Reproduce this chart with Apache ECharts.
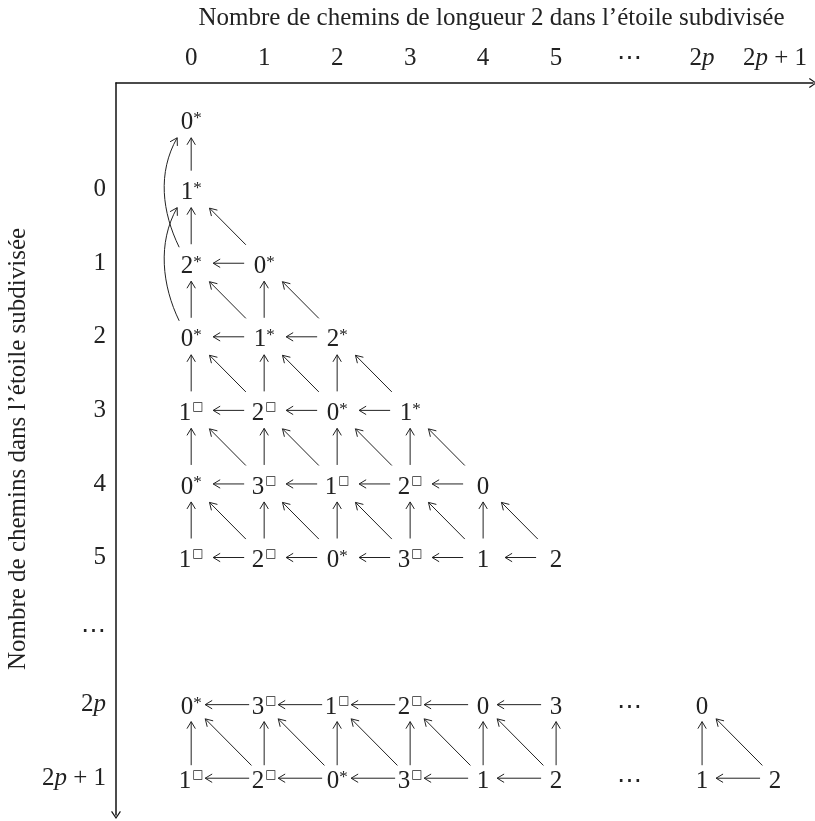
<!DOCTYPE html>
<html>
<head>
<meta charset="utf-8">
<title>Chemins de longueur 2</title>
<script src="https://cdn.jsdelivr.net/npm/echarts@6/dist/echarts.min.js"></script>
<style>
  html, body { margin: 0; padding: 0; background: #fff; }
  #chart { width: 815px; height: 821px; }
</style>
</head>
<body>
<div id="chart"></div>
<script>
// tick labels on both axes
const colLabels = ['0', '1', '2', '3', '4', '5', '⋯', '2p', '2p+1'];
const rowLabels = ['0', '1', '2', '3', '4', '5', '⋯', '2p', '2p+1'];

// rows of the diagram: where each row sits on the vertical axis, and its nodes from left to right
const rowPos = [-0.95, 0, 1, 2, 3, 4, 5, 7, 8];
const rowNodes = [
  ['0*'],
  ['1*'],
  ['2*', '0*'],
  ['0*', '1*', '2*'],
  ['1□', '2□', '0*', '1*'],
  ['0*', '3□', '1□', '2□', '0'],
  ['1□', '2□', '0*', '3□', '1', '2'],
  ['0*', '3□', '1□', '2□', '0', '3', '⋯', '0'],
  ['1□', '2□', '0*', '3□', '1', '2', '⋯', '1', '2']
];
// curved arrows in the first column: [from row, to row] (indexes into rowNodes)
const loops = [[2, 0], [3, 1]];

const ink = '#222';
const serif = '"Liberation Serif", "DejaVu Serif", serif';
const fs = 25;

// nodes
const nodes = [];
rowNodes.forEach((row, i) => {
  row.forEach((s, c) => nodes.push([c, rowPos[i], s]));
});

// straight arrows: up, up-left and left, between neighbouring nodes
const edges = [];
const real = s => s !== undefined && s !== '⋯';
rowNodes.forEach((row, i) => {
  row.forEach((s, c) => {
    if (real(s) && real(row[c + 1])) edges.push([c + 1, rowPos[i], c, rowPos[i]]);
  });
  if (i === 0 || rowPos[i] - rowPos[i - 1] > 1.05) return;
  const up = rowNodes[i - 1];
  row.forEach((s, c) => {
    if (!real(s)) return;
    if (real(up[c])) edges.push([c, rowPos[i], c, rowPos[i - 1]]);
    if (c > 0 && real(up[c - 1])) edges.push([c, rowPos[i], c - 1, rowPos[i - 1]]);
  });
});
const loopData = loops.map(l => [0, rowPos[l[0]], rowPos[l[1]]]);

function arrowHead(tip, ux, uy) {
  const L = 7, W = 4.2;
  const bx = tip[0] - ux * L, by = tip[1] - uy * L;
  return {
    type: 'polyline',
    shape: { points: [[bx - uy * W, by + ux * W], tip, [bx + uy * W, by - ux * W]] },
    style: { stroke: ink, fill: null, lineWidth: 1 }
  };
}

function renderArrow(params, api) {
  const p1 = api.coord([api.value(0), api.value(1)]);
  const p2 = api.coord([api.value(2), api.value(3)]);
  const low = api.value(3) >= 6; // bottom block is typeset tighter
  const dx = p2[0] - p1[0], dy = p2[1] - p1[1];
  const len = Math.hypot(dx, dy);
  const ux = dx / len, uy = dy / len;
  let a, b; // gap at tail, gap at head
  if (Math.abs(dy) < 1) { a = low ? 15 : 20; b = low ? 14 : 22; }
  else if (Math.abs(dx) < 1) { a = low ? 13 : 19; b = low ? 17 : 18; }
  else { a = low ? 18 : 26; b = low ? 20 : 26; }
  const t = [p1[0] + ux * a, p1[1] + uy * a];
  const h = [p2[0] - ux * b, p2[1] - uy * b];
  return {
    type: 'group',
    children: [
      { type: 'line', shape: { x1: t[0], y1: t[1], x2: h[0], y2: h[1] }, style: { stroke: ink, lineWidth: 1 } },
      arrowHead(h, ux, uy)
    ]
  };
}

function renderLoop(params, api) {
  const s = api.coord([api.value(0), api.value(1)]);
  const e = api.coord([api.value(0), api.value(2)]);
  const t = [s[0] - 12, s[1] - 16];
  const h = [e[0] - 14, e[1] + 18];
  const c1 = [t[0] - 17, t[1] - 35];
  const c2 = [h[0] - 20, h[1] + 35];
  const len = Math.hypot(h[0] - c2[0], h[1] - c2[1]);
  return {
    type: 'group',
    children: [
      {
        type: 'bezierCurve',
        shape: { x1: t[0], y1: t[1], cpx1: c1[0], cpy1: c1[1], cpx2: c2[0], cpy2: c2[1], x2: h[0], y2: h[1] },
        style: { stroke: ink, fill: null, lineWidth: 1 }
      },
      arrowHead(h, (h[0] - c2[0]) / len, (h[1] - c2[1]) / len)
    ]
  };
}

// '0*' -> 0 with superscript star, '1□' -> 1 with superscript box
function nodeText(s) {
  const base = '{b|' + s[0] + '}';
  if (s[1] === '*') return base + '{s|*}';
  if (s[1] === '□') return base + '{q|□}';
  return base;
}
const tickText = s => s.replace('p', '{i|p}').replace('+', ' + ');

const tickRich = { i: { fontFamily: serif, fontSize: fs, fontStyle: 'italic', color: ink } };
const axisArrow = 'path://M0,0 L6,9 L4.8,9.8 L0,2.4 L-4.8,9.8 L-6,9 Z';

const chart = echarts.init(document.getElementById('chart'));
chart.setOption({
  backgroundColor: '#fff',
  animation: false,
  grid: { left: 116, right: 2, top: 83, bottom: 6, containLabel: false, outerBoundsMode: 'none' },
  xAxis: {
    type: 'value',
    position: 'top',
    min: -1.03,
    max: 8.52,
    name: 'Nombre de chemins de longueur 2 dans l’étoile subdivisée',
    nameLocation: 'middle',
    nameGap: 52,
    nameTextStyle: { fontFamily: serif, fontSize: fs, color: ink, padding: [0, 0, 0, 54] },
    axisLine: {
      show: true, onZero: false,
      symbol: ['none', axisArrow], symbolSize: [11, 8],
      lineStyle: { color: '#111', width: 1.5 }
    },
    axisTick: { show: false },
    splitLine: { show: false },
    axisLabel: {
      customValues: [0, 1, 2, 3, 4, 5, 6, 7, 8],
      formatter: v => tickText(colLabels[v]),
      margin: 12,
      fontFamily: serif, fontSize: fs, color: ink,
      rich: tickRich
    }
  },
  yAxis: {
    type: 'value',
    inverse: true,
    min: -1.45,
    max: 8.5,
    name: 'Nombre de chemins dans l’étoile subdivisée',
    nameLocation: 'middle',
    nameGap: 84,
    nameTextStyle: { fontFamily: serif, fontSize: fs, color: ink },
    axisLine: {
      show: true, onZero: false,
      symbol: [axisArrow, 'none'], symbolSize: [11, 8],
      lineStyle: { color: '#111', width: 1.5 }
    },
    axisTick: { show: false },
    splitLine: { show: false },
    axisLabel: {
      customValues: [0, 1, 2, 3, 4, 5, 6, 7, 8],
      formatter: v => tickText(rowLabels[v]),
      margin: 10,
      fontFamily: serif, fontSize: fs, color: ink,
      rich: tickRich
    }
  },
  series: [
    {
      type: 'custom',
      coordinateSystem: 'cartesian2d',
      silent: true,
      encode: { x: [0, 2], y: [1, 3] },
      renderItem: renderArrow,
      data: edges
    },
    {
      type: 'custom',
      coordinateSystem: 'cartesian2d',
      silent: true,
      encode: { x: 0, y: [1, 2] },
      renderItem: renderLoop,
      data: loopData
    },
    {
      type: 'scatter',
      silent: true,
      symbolSize: 0,
      itemStyle: { opacity: 1 },
      data: nodes,
      label: {
        show: true,
        position: 'inside',
        offset: [0, 3],
        color: ink,
        textBorderWidth: 0,
        formatter: p => nodeText(p.data[2]),
        rich: {
          b: { fontFamily: serif, fontSize: fs, color: ink, textBorderWidth: 0 },
          s: { fontFamily: serif, fontSize: 17, color: ink, verticalAlign: 'top', textBorderWidth: 0 },
          q: { fontFamily: '"DejaVu Sans", sans-serif', fontSize: 12, color: ink, verticalAlign: 'top', padding: [0, 0, 0, 1], textBorderWidth: 0 }
        }
      }
    }
  ]
});
</script>
</body>
</html>
